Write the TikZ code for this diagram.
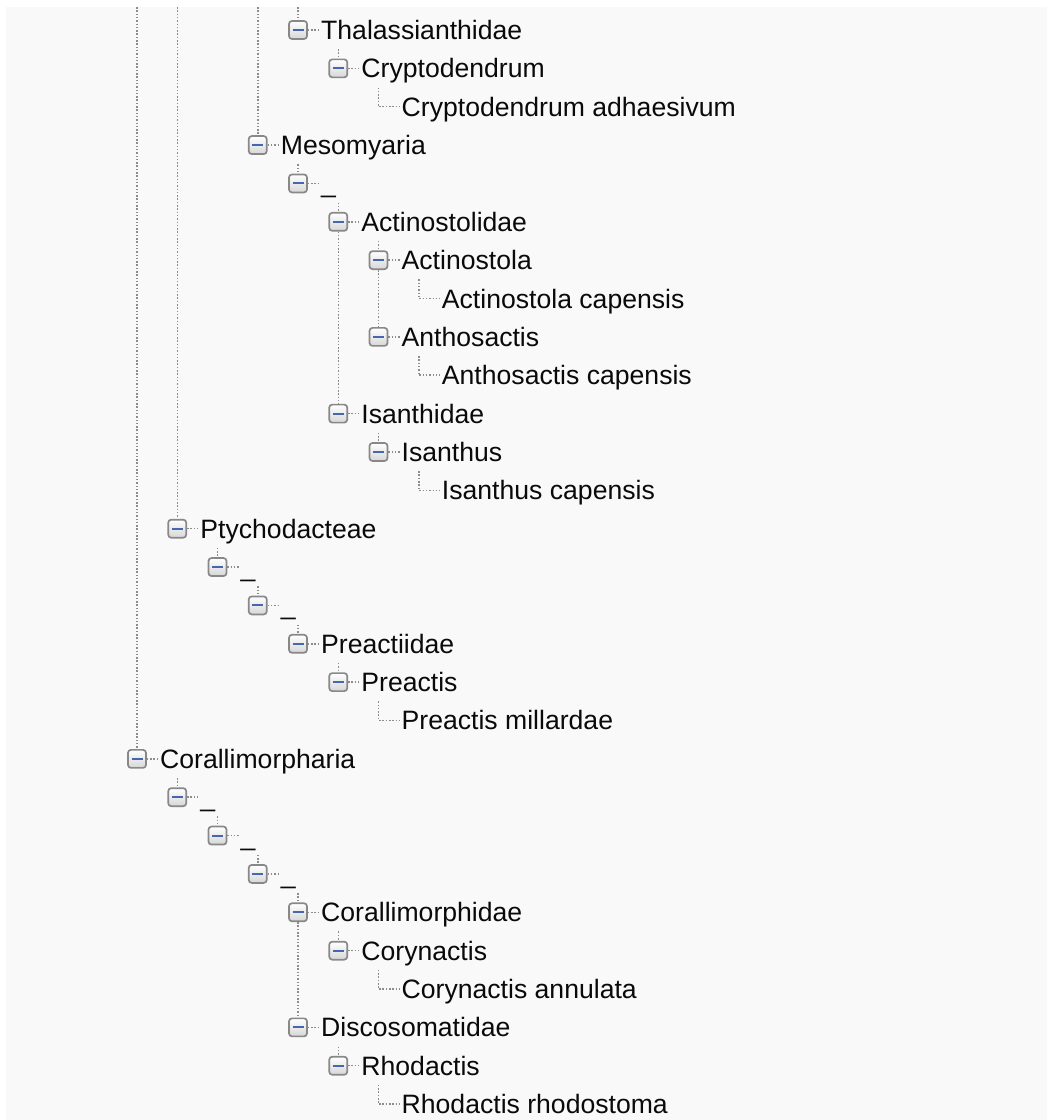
\documentclass[tikz,border=0pt]{standalone}
\usepackage{fontspec}
\setmainfont{Liberation Sans}
\definecolor{bgc}{HTML}{F9F9F9}
\definecolor{dotc}{HTML}{8C8C8C}
\definecolor{boxc}{HTML}{888888}
\definecolor{minusc}{HTML}{4766B0}
\definecolor{txtc}{HTML}{0A0A0A}
\tikzset{
  tbox/.style={rectangle, draw=boxc, line width=1.7bp, rounded corners=3bp,
    minimum width=18bp, minimum height=18bp, inner sep=0pt,
    top color=white, bottom color=black!16,
    path picture={\draw[minusc, line width=2bp]
      ([xshift=-5.5bp]path picture bounding box.center) --
      ([xshift=5.5bp]path picture bounding box.center);}},
  tlabel/.style={anchor=base west, inner sep=0pt, text height=19bp, text depth=0bp,
    text=txtc, font=\fontsize{26.6bp}{30bp}\selectfont},
  tline/.style={dotc, line width=1.5bp, dash pattern=on 1.5bp off 1.8bp}
}
% name, level, row, text  (with stub from row top)
\newcommand\TBranch[4]{%
  \node[tbox] (b#1) at ({137+40.25*#2},{30+38.36*#3}) {};
  \node[tlabel] (t#1) at ([xshift=23bp,yshift=-9.5bp]b#1.center) {#4};
  \draw[tline] (b#1.east) -- ([xshift=-2bp]t#1.west);
  \coordinate (s#1) at ({137+40.25*#2},{30+38.36*#3-19.2});
  \draw[tline] (s#1) -- (b#1.north);
}
% no stub
\newcommand\TBranchN[4]{%
  \node[tbox] (b#1) at ({137+40.25*#2},{30+38.36*#3}) {};
  \node[tlabel] (t#1) at ([xshift=23bp,yshift=-9.5bp]b#1.center) {#4};
  \draw[tline] (b#1.east) -- ([xshift=-2bp]t#1.west);
}
\newcommand\TLeaf[4]{%
  \coordinate (s#1) at ({137+40.25*#2},{30+38.36*#3-19.2});
  \node[tlabel] (t#1) at ({137+40.25*#2+23},{30+38.36*#3+9.5}) {#4};
  \draw[tline] (s#1) |- ([xshift=-2bp]t#1.west);
}
\begin{document}
\begin{tikzpicture}[x=1bp, y=-1bp]
\useasboundingbox (0,0) rectangle (1047,1120);
\fill[white] (0,0) rectangle (1047,1120);
\fill[bgc] (6,7) rectangle (1047,1120);

\TBranchN{0}{4}{0}{Thalassianthidae}
\TBranch{1}{5}{1}{Cryptodendrum}
\TLeaf{2}{6}{2}{Cryptodendrum adhaesivum}
\TBranchN{3}{3}{3}{Mesomyaria}
\TBranch{4}{4}{4}{\_}
\TBranch{5}{5}{5}{Actinostolidae}
\TBranch{6}{6}{6}{Actinostola}
\TLeaf{7}{7}{7}{Actinostola capensis}
\TBranchN{8}{6}{8}{Anthosactis}
\TLeaf{9}{7}{9}{Anthosactis capensis}
\TBranchN{10}{5}{10}{Isanthidae}
\TBranch{11}{6}{11}{Isanthus}
\TLeaf{12}{7}{12}{Isanthus capensis}
\TBranchN{13}{1}{13}{Ptychodacteae}
\TBranch{14}{2}{14}{\_}
\TBranch{15}{3}{15}{\_}
\TBranch{16}{4}{16}{Preactiidae}
\TBranch{17}{5}{17}{Preactis}
\TLeaf{18}{6}{18}{Preactis millardae}
\TBranchN{19}{0}{19}{Corallimorpharia}
\TBranch{20}{1}{20}{\_}
\TBranch{21}{2}{21}{\_}
\TBranch{22}{3}{22}{\_}
\TBranch{23}{4}{23}{Corallimorphidae}
\TBranch{24}{5}{24}{Corynactis}
\TLeaf{25}{6}{25}{Corynactis annulata}
\TBranchN{26}{4}{26}{Discosomatidae}
\TBranch{27}{5}{27}{Rhodactis}
\TLeaf{28}{6}{28}{Rhodactis rhodostoma}

% lines continuing from above the view
\coordinate (topA) at (137,7);
\coordinate (topB) at (177.25,7);
\coordinate (topC) at (257.75,7);
\coordinate (topD) at (298,7);
\draw[tline] (topA) -- (b19.north);
\draw[tline] (topB) -- (b13.north);
\draw[tline] (topC) -- (b3.north);
\draw[tline] (topD) -- (b0.north);

% sibling lines
\draw[tline] (b5.south) -- (b10.north);
\draw[tline] (b6.south) -- (b8.north);
\draw[tline] (b23.south) -- (b26.north);
\end{tikzpicture}
\end{document}
